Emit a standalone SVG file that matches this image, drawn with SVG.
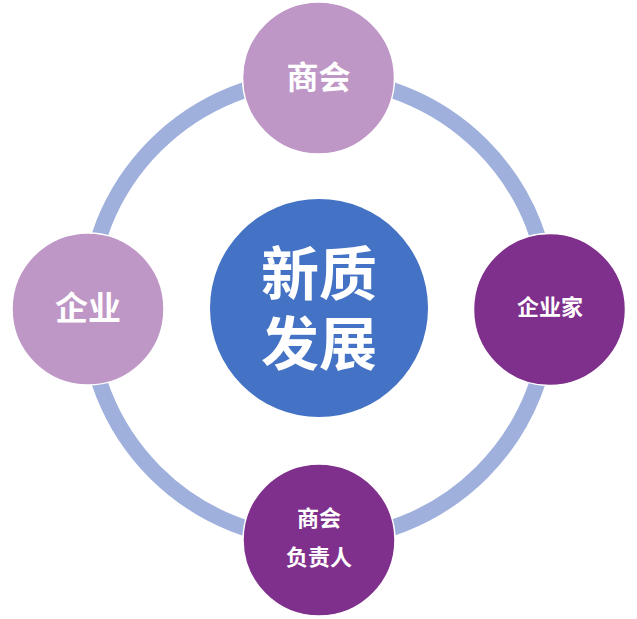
<svg xmlns="http://www.w3.org/2000/svg" width="637" height="619" viewBox="0 0 637 619">
<style>
.t{font-family:"Noto Sans CJK SC","Noto Sans",sans-serif;font-weight:700;fill:#fff;text-anchor:middle}
.lp{fill:#BE97C6;stroke:#fff;stroke-width:1.5}
.dp{fill:#7F2F8C;stroke:#fff;stroke-width:1.5}
</style>
<rect width="637" height="619" fill="#fff"/>
<g id="connectors">
<circle cx="318.5" cy="309" r="231" fill="none" stroke="#9FB0DD" stroke-width="16"/>
</g>
<g id="center">
<circle cx="319" cy="308" r="109" fill="#4472C4"/>
<text class="t" font-size="58"><tspan x="319" y="295">新质</tspan><tspan x="319" y="365">发展</tspan></text>
</g>
<g id="top">
<circle class="lp" cx="318.5" cy="78" r="76"/>
<text class="t" x="318.5" y="89" font-size="32">商会</text>
</g>
<g id="left">
<circle class="lp" cx="88" cy="309" r="76"/>
<text class="t" x="88" y="320" font-size="33">企业</text>
</g>
<g id="right">
<circle class="dp" cx="549.5" cy="309.5" r="76"/>
<text class="t" x="550" y="315" font-size="22">企业家</text>
</g>
<g id="bottom">
<circle class="dp" cx="319" cy="540" r="76"/>
<text class="t" font-size="22"><tspan x="319" y="526">商会</tspan><tspan x="319" y="565">负责人</tspan></text>
</g>
</svg>
